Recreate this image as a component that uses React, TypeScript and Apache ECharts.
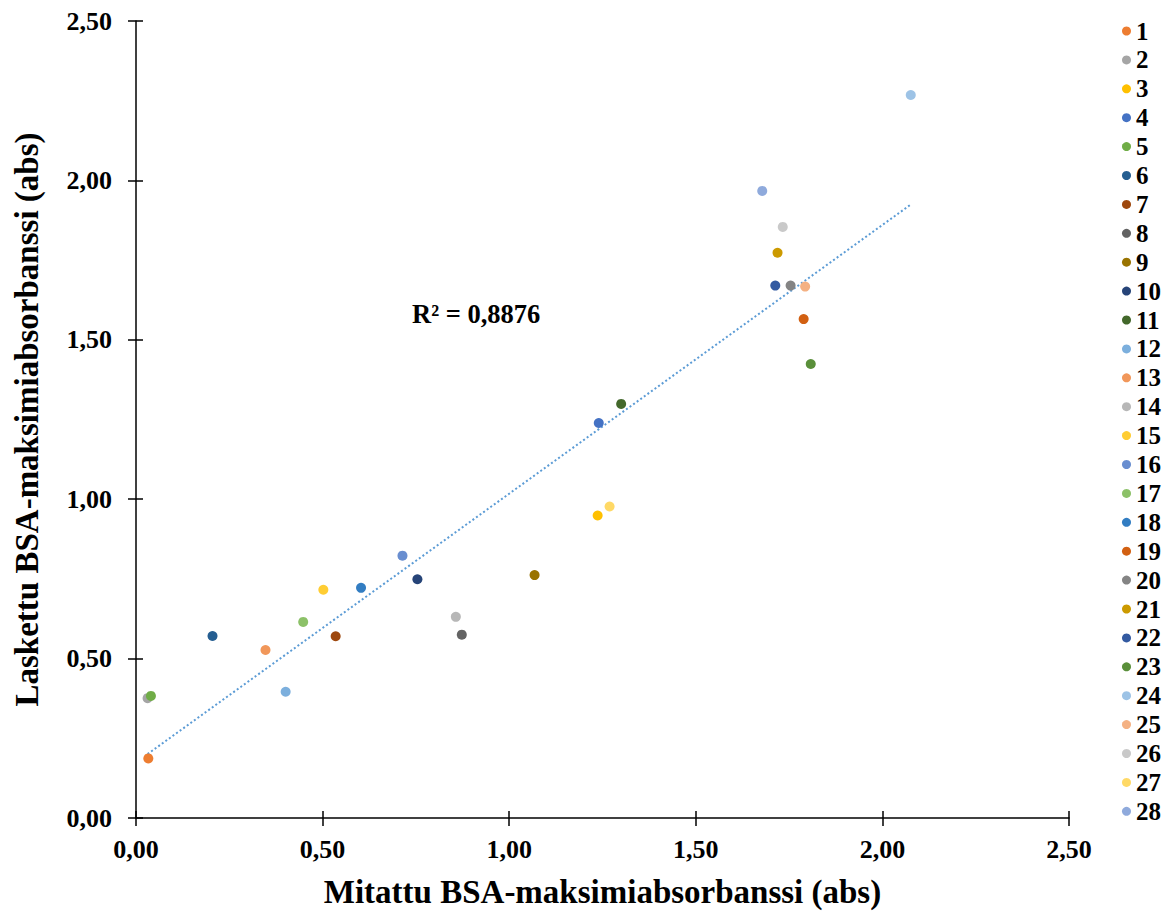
import React, { useEffect, useRef } from "react";
import * as echarts from "echarts";

const seriesNames = ["1","2","3","4","5","6","7","8","9","10","11","12","13","14","15","16","17","18","19","20","21","22","23","24","25","26","27","28"];
const measured = [0.033,0.031,1.237,1.240,0.040,0.205,0.535,0.873,1.068,0.754,1.300,0.401,0.347,0.857,0.502,0.714,0.448,0.603,1.789,1.754,1.719,1.713,1.808,2.076,1.793,1.733,1.269,1.678];
const calculated = [0.187,0.376,0.949,1.239,0.383,0.571,0.570,0.575,0.762,0.749,1.299,0.396,0.527,0.631,0.716,0.823,0.615,0.722,1.565,1.670,1.773,1.670,1.424,2.268,1.667,1.854,0.977,1.967];
const colors = ["#ED7D31","#A5A5A5","#FFC000","#4472C4","#70AD47","#255E91","#9E480E","#636363","#997300","#264478","#43682B","#7CAFDD","#F1975A","#B7B7B7","#FFCD33","#698ED0","#8CC168","#327DC2","#D26012","#848484","#CC9A00","#335AA1","#5A8F3A","#9DC3E6","#F4B183","#C9C9C9","#FFD966","#8FAADC"];
const axisTicks = [0, 0.5, 1, 1.5, 2, 2.5];
const xTitle = "Mitattu BSA-maksimiabsorbanssi (abs)";
const yTitle = "Laskettu BSA-maksimiabsorbanssi (abs)";
const r2Label = "R² = 0,8876";

const FONT = "'Liberation Serif', 'Times New Roman', serif";

function regression(xs: number[], ys: number[]) {
  const n = xs.length;
  const mx = xs.reduce((a, b) => a + b, 0) / n;
  const my = ys.reduce((a, b) => a + b, 0) / n;
  let sxy = 0, sxx = 0;
  for (let i = 0; i < n; i++) {
    sxy += (xs[i] - mx) * (ys[i] - my);
    sxx += (xs[i] - mx) * (xs[i] - mx);
  }
  const slope = sxy / sxx;
  return { slope, intercept: my - slope * mx };
}

export default function App() {
  const ref = useRef<HTMLDivElement>(null);
  useEffect(() => {
    if (!ref.current) return;
    const chart = echarts.init(ref.current, undefined, { renderer: "svg" });
    const { slope, intercept } = regression(measured, calculated);
    const xmin = Math.min(...measured);
    const xmax = Math.max(...measured);
    const fmt = (v: number) => v.toFixed(2).replace(".", ",");
    const axisMin = axisTicks[0];
    const axisMax = axisTicks[axisTicks.length - 1];
    const step = axisTicks[1] - axisTicks[0];

    const mainAxis = (isX: boolean) => ({
      type: "value",
      min: axisMin,
      max: axisMax,
      interval: step,
      position: isX ? "bottom" : "left",
      name: isX ? xTitle : yTitle,
      nameLocation: "middle",
      nameGap: isX ? 57 : 93,
      nameTextStyle: {
        fontFamily: FONT,
        fontWeight: "bold",
        fontSize: 33,
        color: "#000",
      },
      axisLine: { show: true, onZero: false, lineStyle: { color: "#000", width: 1.5 } },
      axisTick: { show: true, length: 8, lineStyle: { color: "#000", width: 1.5 } },
      axisLabel: {
        formatter: fmt,
        fontFamily: FONT,
        fontWeight: "bold",
        fontSize: 26,
        color: "#000",
        margin: isX ? 18 : 24,
      },
      splitLine: { show: false },
    });
    const innerTickAxis = (isX: boolean) => ({
      type: "value",
      min: axisMin,
      max: axisMax,
      interval: step,
      position: isX ? "bottom" : "left",
      axisLine: { show: false, onZero: false },
      axisTick: { show: true, inside: true, length: 7, lineStyle: { color: "#000", width: 1.5 } },
      axisLabel: { show: false },
      splitLine: { show: false },
    });

    const scatterSeries = seriesNames.map((name, i) => ({
      type: "scatter",
      name,
      data: [[measured[i], calculated[i]]],
      symbol: "circle",
      symbolSize: 10,
      itemStyle: { color: colors[i], opacity: 1 },
      xAxisIndex: 0,
      yAxisIndex: 0,
      z: 3,
    }));

    chart.setOption({
      animation: false,
      backgroundColor: "#fff",
      grid: { left: 136, right: 94, top: 21, bottom: 95, containLabel: false },
      xAxis: [mainAxis(true), innerTickAxis(true)],
      yAxis: [mainAxis(false), innerTickAxis(false)],
      legend: {
        orient: "vertical",
        left: 1117,
        top: 13.5,
        icon: "circle",
        itemWidth: 9,
        itemHeight: 9,
        itemGap: 3.9,
        data: seriesNames,
        textStyle: {
          fontFamily: FONT,
          fontWeight: "bold",
          fontSize: 25,
          lineHeight: 25,
          color: "#000",
        },
      },
      series: [
        ...scatterSeries,
        {
          type: "line",
          name: "trend",
          data: [
            [xmin, intercept + slope * xmin],
            [xmax, intercept + slope * xmax],
          ],
          symbol: "none",
          silent: true,
          lineStyle: { color: "#5B9BD5", width: 2, type: [2, 2.4] },
          xAxisIndex: 0,
          yAxisIndex: 0,
          z: 2,
        },
      ],
      graphic: [
        {
          type: "text",
          left: 412,
          top: 300,
          style: {
            text: r2Label,
            font: `bold 26.5px ${FONT}`,
            fill: "#000",
          },
        },
      ],
    });
    return () => chart.dispose();
  }, []);
  return (
    <div
      ref={ref}
      style={{ position: "fixed", left: 0, top: 0, width: 1163, height: 913 }}
    />
  );
}
